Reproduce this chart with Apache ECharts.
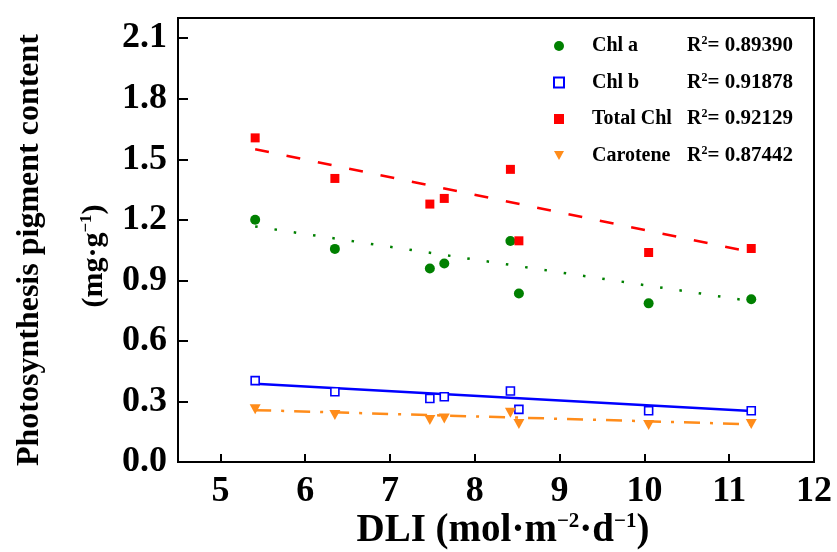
<!DOCTYPE html>
<html>
<head>
<meta charset="utf-8">
<script src="https://cdn.jsdelivr.net/npm/echarts@6/dist/echarts.min.js"></script>
<style>
html,body{margin:0;padding:0;background:#fff;}
#chart{width:837px;height:552px;}
</style>
</head>
<body>
<div id="chart"></div>
<script>
// ---- data ----
const xDLI      = [5.41, 6.35, 7.47, 7.64, 8.42, 8.52, 10.05, 11.26];
const chlA      = [1.200, 1.056, 0.959, 0.984, 1.095, 0.835, 0.786, 0.806];
const chlB      = [0.403, 0.348, 0.315, 0.323, 0.352, 0.261, 0.254, 0.254];
const totalChl  = [1.606, 1.405, 1.278, 1.306, 1.450, 1.096, 1.038, 1.058];
const carotene  = [0.261, 0.233, 0.208, 0.216, 0.244, 0.188, 0.183, 0.188];

// fitted lines (endpoints)
const fitX        = [5.41, 11.26];
const fitChlA     = [1.167, 0.797];
const fitChlB     = [0.388, 0.253];
const fitTotal    = [1.550, 1.040];
const fitCarotene = [0.257, 0.187];

const seriesNames = ['Chl a', 'Chl b', 'Total Chl', 'Carotene'];
const r2Values    = ['0.89390', '0.91878', '0.92129', '0.87442'];

const xTicks = [5, 6, 7, 8, 9, 10, 11, 12];
const yTicks = [0, 0.3, 0.6, 0.9, 1.2, 1.5, 1.8, 2.1];

const FONT = '"Liberation Serif", "Times New Roman", serif';

function pairs(xs, ys) { return xs.map((x, i) => [x, ys[i]]); }

const chart = echarts.init(document.getElementById('chart'), null, {renderer: 'canvas'});

const option = {
  backgroundColor: '#ffffff',
  animation: false,
  grid: {
    left: 178, right: 23, top: 18, bottom: 90,
    show: true, borderColor: '#000', borderWidth: 2, backgroundColor: 'transparent'
  },
  xAxis: {
    type: 'value', min: 4.5, max: 12,
    splitLine: {show: false},
    axisLine: {show: true, onZero: false, lineStyle: {color: '#000', width: 2}},
    axisTick: {show: true, inside: true, length: 8, lineStyle: {color: '#000', width: 2}, customValues: xTicks},
    axisLabel: {
      customValues: xTicks, margin: 12,
      color: '#000', fontFamily: FONT, fontWeight: 'bold', fontSize: 36,
      formatter: v => String(v)
    }
  },
  yAxis: {
    type: 'value', min: 0, max: 2.2,
    splitLine: {show: false},
    axisLine: {show: true, onZero: false, lineStyle: {color: '#000', width: 2}},
    axisTick: {show: true, inside: true, length: 10, lineStyle: {color: '#000', width: 2}, customValues: yTicks},
    axisLabel: {
      customValues: yTicks, margin: 11,
      color: '#000', fontFamily: FONT, fontWeight: 'bold', fontSize: 36,
      formatter: v => Number(v).toFixed(1)
    }
  },
  legend: {
    data: seriesNames,
    orient: 'vertical',
    left: 553, top: 35, padding: 0,
    itemWidth: 10, itemHeight: 10, itemGap: 15,
    formatter: function (name) {
      const i = seriesNames.indexOf(name);
      return '{n|' + name + '}{r|R}{s|2}{v|= ' + r2Values[i] + '}';
    },
    textStyle: {
      color: '#000', fontFamily: FONT, fontWeight: 'bold', fontSize: 20,
      rich: {
        n: {width: 95, padding: [0, 0, 0, 23], fontFamily: FONT, fontWeight: 'bold', fontSize: 20, lineHeight: 22, color: '#000'},
        r: {fontFamily: FONT, fontWeight: 'bold', fontSize: 20, lineHeight: 22, color: '#000'},
        s: {fontFamily: FONT, fontWeight: 'bold', fontSize: 12, lineHeight: 22, verticalAlign: 'top', color: '#000'},
        v: {fontFamily: FONT, fontWeight: 'bold', fontSize: 21, lineHeight: 22, color: '#000'}
      }
    }
  },
  graphic: [
    {
      type: 'text', x: 30, y: 250, rotation: Math.PI / 2,
      style: {
        text: 'Photosynthesis pigment content',
        font: 'bold 32px ' + FONT, fill: '#000',
        align: 'center', verticalAlign: 'middle'
      }
    },
    {
      type: 'text', x: 94, y: 256, rotation: Math.PI / 2,
      style: {
        text: '{a|(mg·g}{s|−1}{a|)}',
        align: 'center', verticalAlign: 'middle', fill: '#000',
        rich: {
          a: {font: 'bold 30px ' + FONT, fill: '#000', lineHeight: 32},
          s: {font: 'bold 17px ' + FONT, fill: '#000', lineHeight: 32, verticalAlign: 'top'}
        }
      }
    },
    {
      type: 'text', x: 503, y: 531,
      style: {
        text: '{a|DLI (mol·m}{s|−2}{a|·d}{s|−1}{a|)}',
        align: 'center', verticalAlign: 'middle', fill: '#000',
        rich: {
          a: {font: 'bold 39px ' + FONT, fill: '#000', lineHeight: 40},
          s: {font: 'bold 21px ' + FONT, fill: '#000', lineHeight: 40, verticalAlign: 'top'}
        }
      }
    }
  ],
  series: [
    {
      name: 'Total Chl fit', type: 'line', data: pairs(fitX, fitTotal),
      symbol: 'none', silent: true, z: 2,
      lineStyle: {color: '#ff0000', width: 2.5, type: [14, 18]}
    },
    {
      name: 'Chl a fit', type: 'line', data: pairs(fitX, fitChlA),
      symbol: 'none', silent: true, z: 2,
      lineStyle: {color: '#008000', width: 2.5, type: [2.5, 17]}
    },
    {
      name: 'Chl b fit', type: 'line', data: pairs(fitX, fitChlB),
      symbol: 'none', silent: true, z: 2,
      lineStyle: {color: '#0000ff', width: 2.5, type: 'solid'}
    },
    {
      name: 'Carotene fit', type: 'line', data: pairs(fitX, fitCarotene),
      symbol: 'none', silent: true, z: 2,
      lineStyle: {color: '#ff8c1a', width: 2.5, type: [16, 10, 3, 10]}
    },
    {
      name: 'Chl a', type: 'scatter', data: pairs(xDLI, chlA), z: 3,
      symbol: 'circle', symbolSize: 10,
      itemStyle: {color: '#008000', opacity: 1}
    },
    {
      name: 'Chl b', type: 'scatter', data: pairs(xDLI, chlB), z: 3,
      symbol: 'rect', symbolSize: 8,
      itemStyle: {color: '#ffffff', borderColor: '#0000ff', borderWidth: 1.6, opacity: 1}
    },
    {
      name: 'Total Chl', type: 'scatter', data: pairs(xDLI, totalChl), z: 3,
      symbol: 'rect', symbolSize: 9,
      itemStyle: {color: '#ff0000', opacity: 1}
    },
    {
      name: 'Carotene', type: 'scatter', data: pairs(xDLI, carotene), z: 3,
      symbol: 'path://M0,0 L10,0 L5,9 Z', symbolSize: [11, 10],
      itemStyle: {color: '#ff8c1a', opacity: 1}
    }
  ]
};

chart.setOption(option);
</script>
</body>
</html>
